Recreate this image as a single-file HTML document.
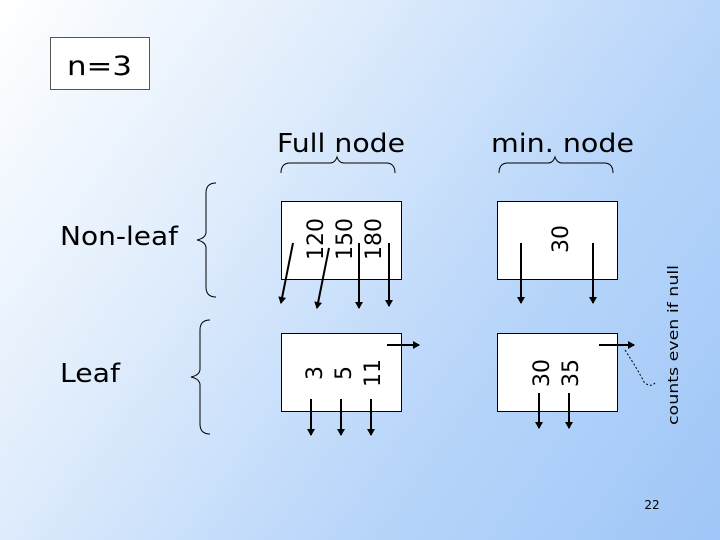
<!DOCTYPE html>
<html><head><style>
body{margin:0}
#c{width:720px;height:540px;position:relative;overflow:hidden;background:linear-gradient(125deg,#ffffff 0%,#e2eefc 30%,#b9d6fa 65%,#9fc6f7 100%);font-family:"DejaVu Sans",sans-serif}
</style></head><body><div id="c">
<svg width="720" height="540" style="position:absolute;left:0;top:0" font-family="DejaVu Sans, sans-serif">
<defs><marker id="a" markerWidth="8" markerHeight="8" refX="6" refY="4" orient="auto" markerUnits="userSpaceOnUse"><path d="M0,0 L7,4 L0,8 z" fill="#000"/></marker></defs>
<rect x="50.5" y="37.5" width="99" height="52" fill="#fff" stroke="#555"/>
<text x="67" y="75" font-size="27" textLength="65" lengthAdjust="spacingAndGlyphs">n=3</text>
<text x="277" y="152" font-size="26" textLength="128" lengthAdjust="spacingAndGlyphs">Full node</text>
<text x="491" y="152" font-size="26" textLength="143" lengthAdjust="spacingAndGlyphs">min. node</text>
<text x="60" y="245" font-size="26" textLength="118" lengthAdjust="spacingAndGlyphs">Non-leaf</text>
<text x="60" y="382" font-size="26" textLength="60" lengthAdjust="spacingAndGlyphs">Leaf</text>
<g fill="none" stroke="#000" stroke-width="1">
<path d="M281,173 Q281,163 290,163 L330,163 Q335,163 337,157 Q339,163 344,163 L386,163 Q395,163 395,173"/>
<path d="M499,173 Q499,163 508,163 L548,163 Q553,163 555,157 Q557,163 562,163 L604,163 Q613,163 613,173"/>
<path d="M216,183 Q206,183 206,193 L206,232 Q206,238 197,240 Q206,242 206,248 L206,287 Q206,297 216,297"/>
<path d="M210,320 Q200,320 200,330 L200,369 Q200,375 191,377 Q200,379 200,385 L200,424 Q200,434 210,434"/>
</g>
<g fill="#fff" stroke="#000"><rect x="281.5" y="201.5" width="120" height="78"/><rect x="281.5" y="333.5" width="120" height="78"/><rect x="497.5" y="201.5" width="120" height="78"/><rect x="497.5" y="333.5" width="120" height="78"/></g>
<g font-size="22" text-anchor="middle">
<text transform="translate(323,239) rotate(-90)">120</text>
<text transform="translate(352,239) rotate(-90)">150</text>
<text transform="translate(381,239) rotate(-90)">180</text>
<text transform="translate(568,239) rotate(-90)">30</text>
<text transform="translate(322,373) rotate(-90)">3</text>
<text transform="translate(351,373) rotate(-90)">5</text>
<text transform="translate(380,373) rotate(-90)">11</text>
<text transform="translate(549,373) rotate(-90)">30</text>
<text transform="translate(578,373) rotate(-90)">35</text>
</g>
<text transform="translate(678,345) rotate(-90)" font-size="14" text-anchor="middle" textLength="160" lengthAdjust="spacingAndGlyphs">counts even if null</text>
<g stroke="#000" stroke-width="2" marker-end="url(#a)">
<line x1="293" y1="243" x2="281" y2="303"/><line x1="329" y1="248" x2="317" y2="308"/>
<line x1="359" y1="243" x2="359" y2="308"/><line x1="389" y1="243" x2="389" y2="306"/>
<line x1="521" y1="243" x2="521" y2="303"/><line x1="593" y1="243" x2="593" y2="303"/>
<line x1="387" y1="345" x2="419" y2="345"/><line x1="599" y1="345" x2="634" y2="345"/>
<line x1="311" y1="399" x2="311" y2="435"/><line x1="341" y1="399" x2="341" y2="435"/><line x1="371" y1="399" x2="371" y2="435"/>
<line x1="539" y1="393" x2="539" y2="428"/><line x1="569" y1="393" x2="569" y2="428"/>
</g>
<path d="M625,350 Q638,370 644,382 Q650,388 655,383" fill="none" stroke="#000" stroke-dasharray="2,2"/>
<text x="652" y="509" font-size="12" text-anchor="middle">22</text>
</svg>
</div></body></html>
